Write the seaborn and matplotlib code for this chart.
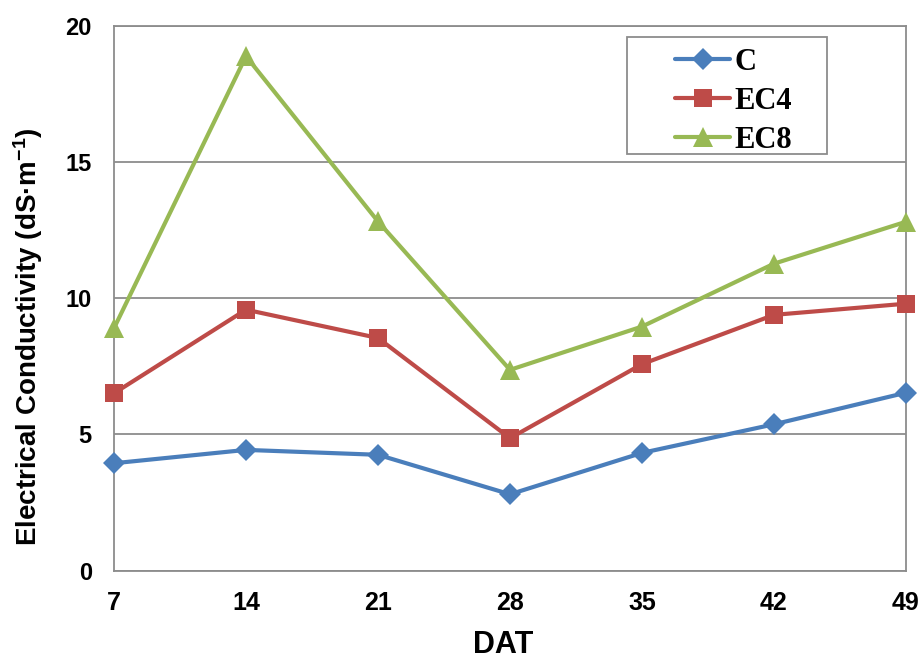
import matplotlib
matplotlib.use("Agg")
import matplotlib.pyplot as plt
import seaborn as sns
import pandas as pd
from matplotlib.lines import Line2D
from matplotlib.patches import Rectangle

# Days after transplanting
dat = [7, 14, 21, 28, 35, 42, 49]
# Electrical conductivity (dS·m-1) per treatment
ec_c = [3.94, 4.43, 4.25, 2.80, 4.32, 5.37, 6.53]
ec_4 = [6.51, 9.58, 8.54, 4.86, 7.58, 9.39, 9.80]
ec_8 = [8.90, 18.89, 12.82, 7.37, 8.96, 11.27, 12.81]
treatments = ["C", "EC4", "EC8"]
y_ticks = [0, 5, 10, 15, 20]

colors = {"C": "#4A7EBB", "EC4": "#BE4B48", "EC8": "#98B954"}
markers = {"C": "D", "EC4": "s", "EC8": "^"}
msizes = {"C": 11, "EC4": 13, "EC8": 15}

df = pd.DataFrame({
    "DAT": dat * 3,
    "EC": ec_c + ec_4 + ec_8,
    "Treatment": sum([[t] * len(dat) for t in treatments], []),
})

sns.set_theme(style="white")
plt.rcParams["font.family"] = ["Liberation Sans", "DejaVu Sans"]
plt.rcParams["text.color"] = "black"
plt.rcParams["xtick.labelcolor"] = "black"
plt.rcParams["ytick.labelcolor"] = "black"
plt.rcParams["mathtext.fontset"] = "custom"
plt.rcParams["mathtext.rm"] = "Liberation Sans"
plt.rcParams["mathtext.bf"] = "Liberation Sans:bold"

W, H = 921, 660
fig = plt.figure(figsize=(W / 100, H / 100), dpi=100)
ax = fig.add_axes([114 / W, 1 - 570.5 / H, (906 - 114) / W, (570.5 - 26) / H])

for t in treatments:
    sub = df[df["Treatment"] == t]
    sns.lineplot(data=sub, x="DAT", y="EC", ax=ax, color=colors[t],
                 marker=markers[t], markersize=msizes[t], linewidth=3.0,
                 markeredgewidth=0, legend=False, clip_on=False, zorder=3)

ax.set_xlim(7, 49)
ax.set_ylim(0, 20)
ax.set_xticks(dat)
ax.set_yticks(y_ticks)
ax.set_xticklabels([str(d) for d in dat], fontsize=18, fontweight="bold", color="black")
ax.set_yticklabels([str(v) for v in y_ticks], fontsize=17, fontweight="bold", color="black")
ax.grid(axis="y", color="#8C8C8C", linewidth=1.3)
ax.set_axisbelow(True)
for s in ax.spines.values():
    s.set_color("#8C8C8C")
    s.set_linewidth(1.3)
ax.tick_params(axis="both", direction="out", length=7, width=1.3, color="#8C8C8C")
ax.tick_params(axis="y", pad=9)
ax.tick_params(axis="x", pad=8)
ax.set_xlabel("")
ax.set_ylabel("")

fig.text(503 / W, 1 - 645 / H, "DAT", fontsize=22, fontweight="bold",
         color="black", ha="center", va="center")
fig.text(28 / W, 1 - 337 / H, r"Electrical Conductivity (dS·m$\mathbf{^{-1}}$)",
         fontsize=20, fontweight="bold", color="black", rotation=90,
         ha="center", va="center")

# legend frame and entries
fig.patches.append(Rectangle((627 / W, 1 - 154 / H), 200 / W, 117 / H,
                             transform=fig.transFigure, fill=False,
                             edgecolor="#8C8C8C", linewidth=1.3))
handles = [Line2D([0], [0], color=colors[t], marker=markers[t], markersize=msizes[t],
                  linewidth=3.0, markeredgewidth=0) for t in treatments]
leg = fig.legend(handles, treatments, loc="upper left",
                 bbox_to_anchor=(675 / W, 1 - 48 / H),
                 frameon=False, handlelength=1.8, handletextpad=0.15, borderpad=0,
                 borderaxespad=0, labelspacing=0.33,
                 prop={"family": "Liberation Serif", "weight": "bold", "size": 22})
for txt in leg.get_texts():
    txt.set_color("black")

fig.savefig("out.png", dpi=100)
